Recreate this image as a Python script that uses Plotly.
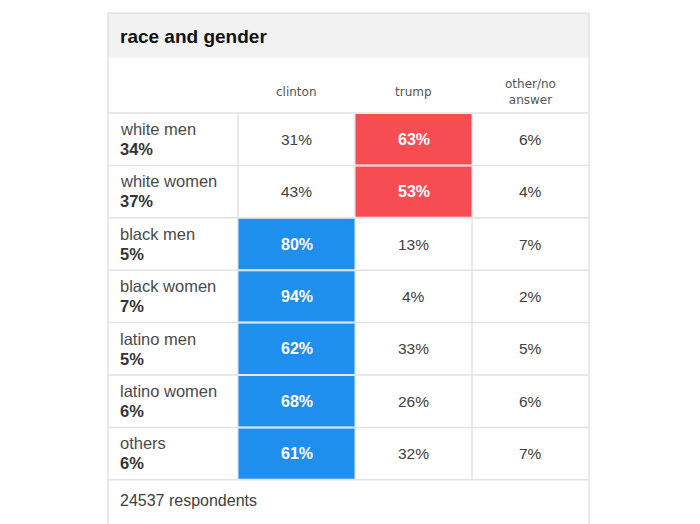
import plotly.graph_objects as go

title = "race and gender"
groups = ["white men", "white women", "black men", "black women",
          "latino men", "latino women", "others"]
shares = ["34%", "37%", "5%", "7%", "5%", "6%", "6%"]
columns = ["clinton", "trump", "other/no<br>answer"]
clinton = [31, 43, 80, 94, 62, 68, 61]
trump = [63, 53, 13, 4, 33, 26, 32]
other = [6, 4, 7, 2, 5, 6, 7]
footer = "24537 respondents"

# layout constants (pixel space, y grows downward)
W, H = 700, 524
PAD = 8  # page body margin offsets the plot
LEFT, RIGHT, TOP = 108, 589, 13
TITLE_H = 45
HEAD_H = 55
LABEL_W = 130
COL_W = (RIGHT - LEFT - LABEL_W) / 3
ROW_H = 52.4
GRID = "#e2e2e2"
TEXT = "#404040"
BLUE = "#1f8fee"
RED = "#f64d52"
FONT = "Liberation Sans, Arial"

values = [clinton, trump, other]
rows_top = TOP + TITLE_H + HEAD_H
rows_bottom = rows_top + ROW_H * len(groups)

shapes = []
annotations = []

# title band
shapes.append(dict(type="rect", x0=LEFT, x1=RIGHT, y0=TOP, y1=TOP + TITLE_H,
                   fillcolor="#f2f2f2", line=dict(width=0), layer="below"))
annotations.append(dict(x=LEFT + 10, y=TOP + TITLE_H / 2 + 1, text="<b>" + title + "</b>",
                        xanchor="left", yanchor="middle", showarrow=False,
                        font=dict(size=19, color="#111", family=FONT)))

# column headers
for j, col in enumerate(columns):
    cx = LEFT + LABEL_W + COL_W * (j + 0.5)
    annotations.append(dict(x=cx, y=rows_top - 21, text=col, showarrow=False,
                            xanchor="center", yanchor="middle",
                            font=dict(size=12, color="#555", family="DejaVu Sans, Arial")))

# cells
for i, g in enumerate(groups):
    y0 = rows_top + ROW_H * i
    ym = y0 + ROW_H / 2
    annotations.append(dict(x=LEFT + 10, y=y0 + 16, text=g, showarrow=False,
                            xanchor="left", yanchor="middle",
                            font=dict(size=16.5, color="#4a4a4a", family=FONT)))
    annotations.append(dict(x=LEFT + 10, y=y0 + 36, text="<b>" + shares[i] + "</b>",
                            showarrow=False, xanchor="left", yanchor="middle",
                            font=dict(size=16.5, color="#333", family=FONT)))
    row_vals = [v[i] for v in values]
    winner = row_vals.index(max(row_vals))
    for j, v in enumerate(row_vals):
        x0 = LEFT + LABEL_W + COL_W * j
        cx = x0 + COL_W / 2
        if j == winner and j < 2:
            shapes.append(dict(type="rect", x0=x0 + 0.5, x1=x0 + COL_W - 0.5,
                               y0=y0 + 1, y1=y0 + ROW_H - 1,
                               fillcolor=BLUE if j == 0 else RED,
                               line=dict(width=0), layer="above"))
            annotations.append(dict(x=cx, y=ym, text="<b>%d%%</b>" % v, showarrow=False,
                                    xanchor="center", yanchor="middle",
                                    font=dict(size=16, color="white", family=FONT)))
        else:
            annotations.append(dict(x=cx, y=ym, text="%d%%" % v, showarrow=False,
                                    xanchor="center", yanchor="middle",
                                    font=dict(size=15.5, color=TEXT, family=FONT)))

# grid lines
line = dict(color=GRID, width=1.5)
for i in range(len(groups) + 1):
    y = rows_top + ROW_H * i
    shapes.append(dict(type="line", x0=LEFT, x1=RIGHT, y0=y, y1=y, line=line, layer="below"))
for j in range(1, 4):
    x = LEFT + LABEL_W + COL_W * (j - 1)
    shapes.append(dict(type="line", x0=x, x1=x, y0=rows_top, y1=rows_bottom,
                       line=line, layer="below"))
shapes.append(dict(type="line", x0=LEFT, x1=RIGHT, y0=TOP, y1=TOP, line=line, layer="below"))
shapes.append(dict(type="line", x0=LEFT, x1=LEFT, y0=TOP, y1=H + PAD, line=line, layer="below"))
shapes.append(dict(type="line", x0=RIGHT, x1=RIGHT, y0=TOP, y1=H + PAD, line=line, layer="below"))

# footer
annotations.append(dict(x=LEFT + 10, y=rows_bottom + 21, text=footer, showarrow=False,
                        xanchor="left", yanchor="middle",
                        font=dict(size=16, color=TEXT, family=FONT)))

fig = go.Figure()
fig.update_layout(
    width=W, height=H,
    margin=dict(l=0, r=0, t=0, b=0),
    paper_bgcolor="white", plot_bgcolor="white",
    xaxis=dict(range=[PAD, W + PAD], visible=False, fixedrange=True),
    yaxis=dict(range=[H + PAD, PAD], visible=False, fixedrange=True),
    shapes=shapes,
    annotations=annotations,
    showlegend=False,
)
fig.write_html("out.html")
